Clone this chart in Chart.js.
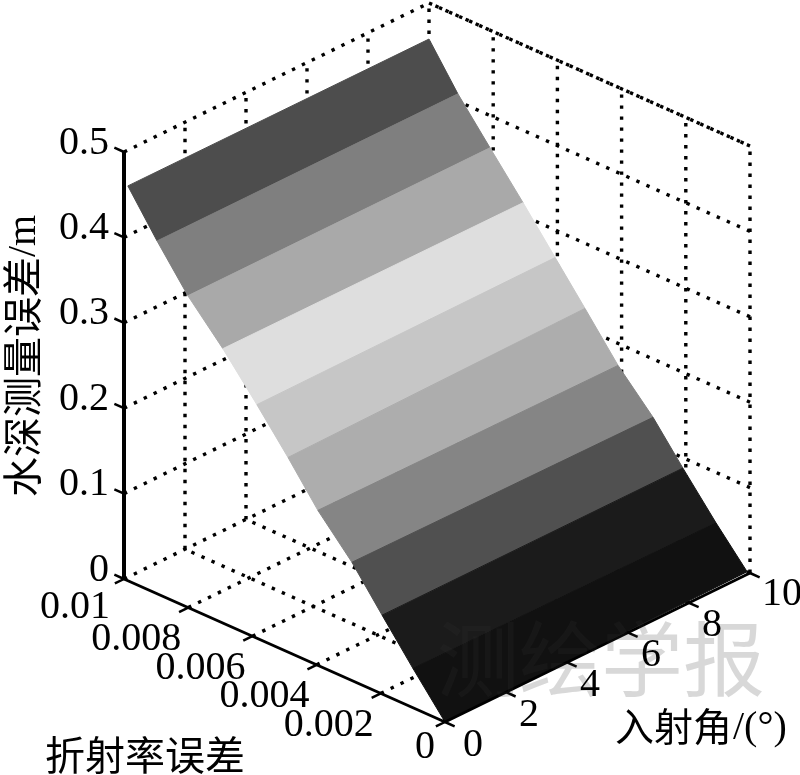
<!DOCTYPE html>
<html>
<head>
<meta charset="utf-8">
<style>html,body{margin:0;padding:0;background:#fff}canvas{display:block}</style>
<script src="https://cdn.jsdelivr.net/npm/chart.js@4"></script>
</head>
<body>
<canvas id="c" width="800" height="775"></canvas>
<script>
// Axis ticks
const refrTicks = [0, 0.002, 0.004, 0.006, 0.008, 0.01];
const refrLabels = ['0', '0.002', '0.004', '0.006', '0.008', '0.01'];
const angleTicks = [0, 2, 4, 6, 8, 10];
const angleLabels = ['0', '2', '4', '6', '8', '10'];
const depthTicks = [0, 0.1, 0.2, 0.3, 0.4, 0.5];
const depthLabels = ['0', '0.1', '0.2', '0.3', '0.4', '0.5'];
// Surface band boundaries (from the far edge to the near edge)
const refrAtAngle0  = [0.00988,0.00897,0.00801,0.00692,0.00586,0.00489,0.00396,0.00290,0.00196,0.00100,0];
const depthAtAngle0 = [0.4623,0.4131,0.3650,0.3213,0.2735,0.2279,0.1815,0.1385,0.0923,0.0461,0];
const refrAtAngle10  = [0.01,0.0091,0.0081,0.00707,0.00607,0.00514,0.00411,0.00302,0.00209,0.00106,0.00009];
const depthAtAngle10 = [0.4578,0.4087,0.3623,0.3152,0.2677,0.2237,0.1742,0.1317,0.0878,0.0410,0];
const bandColors = ['#4d4d4d','#7f7f7f','#a9a9a9','#dedede','#c6c6c6','#adadad','#858585','#505050','#1b1b1b','#111111'];

// Camera model of the 3D box, giving 2D coordinates on the chart's linear scales
const ORIGIN = [445, 722];
function project(r, a, z) {
  return {
    x: ORIGIN[0] - 321 * (r / 0.01) + 305 * (a / 10),
    y: ORIGIN[1] - 143 * (r / 0.01) - 149 * (a / 10) - 854 * z
  };
}
const R1 = refrTicks[refrTicks.length - 1], A1 = angleTicks[angleTicks.length - 1], Z1 = depthTicks[depthTicks.length - 1];

const datasets = [];
function line(p, q, opts) {
  datasets.push(Object.assign({
    data: [project(...p), project(...q)], showLine: true, pointRadius: 0, fill: false, spanGaps: true
  }, opts));
}
const dotted = { borderColor: '#000', borderWidth: 3.4, borderDash: [3.4, 7.6], order: 30 };
const solid = { borderColor: '#000', order: 1 };

// Dotted grid on walls and floor
angleTicks.forEach(a => {
  if (a > 0) line([R1, a, 0], [R1, a, Z1], dotted);
  line([0, a, 0], [R1, a, 0], a === 0 ? Object.assign({}, solid, { borderWidth: 3 }) : dotted);
});
refrTicks.forEach(r => {
  if (r < R1) line([r, A1, 0], [r, A1, Z1], dotted);
  line([r, 0, 0], [r, A1, 0], r === 0 ? Object.assign({}, solid, { borderWidth: 3 }) : dotted);
});
depthTicks.forEach(z => {
  if (z > 0) {
    line([R1, 0, z], [R1, A1, z], dotted);
    line([0, A1, z], [R1, A1, z], dotted);
  }
});
// Top edge of the box
line([R1, A1, Z1], [0, A1, Z1], dotted);

// Surface bands
bandColors.forEach((col, i) => {
  const poly = [
    project(refrAtAngle0[i], 0, depthAtAngle0[i]),
    project(refrAtAngle10[i], A1, depthAtAngle10[i]),
    project(refrAtAngle10[i + 1], A1, depthAtAngle10[i + 1]),
    project(refrAtAngle0[i + 1], 0, depthAtAngle0[i + 1])
  ];
  poly.push(poly[0]);
  datasets.push({
    data: poly, showLine: true, pointRadius: 0, tension: 0,
    backgroundColor: col, borderColor: col, borderWidth: 1, fill: 'shape', order: 10 + (bandColors.length - i)
  });
});

// Solid axes and tick marks
line([R1, 0, 0], [R1, 0, Z1], Object.assign({}, solid, { borderWidth: 4 }));
depthTicks.forEach(z => line([R1, 0, z], [R1 + 0.0003, 0, z], Object.assign({}, solid, { borderWidth: 2.5 })));
refrTicks.forEach(r => line([r, 0, 0], [r, -0.3, 0], Object.assign({}, solid, { borderWidth: 2.5 })));
angleTicks.forEach(a => line([0, a, 0], [-0.0003, a, 0], Object.assign({}, solid, { borderWidth: 2.5 })));

const SERIF = '"Liberation Serif", serif';
const CJK = '"Noto Sans CJK SC", "Noto Sans", sans-serif';

const textPlugin = {
  id: 'boxText',
  afterDraw(chart) {
    const { ctx, scales: { x, y } } = chart;
    const px = p => [x.getPixelForValue(p.x), y.getPixelForValue(p.y)];
    ctx.save();
    // Watermark
    ctx.font = '400 82px ' + CJK;
    ctx.textAlign = 'left';
    ctx.textBaseline = 'middle';
    ctx.globalCompositeOperation = 'multiply';
    ctx.fillStyle = '#cfcfcf';
    ctx.fillText('测绘学报', 437, 659);
    ctx.globalCompositeOperation = 'lighter';
    ctx.fillStyle = 'rgba(255,255,255,0.035)';
    ctx.fillText('测绘学报', 437, 659);
    ctx.globalCompositeOperation = 'source-over';

    ctx.fillStyle = '#000';
    ctx.font = '40px ' + SERIF;
    ctx.textBaseline = 'middle';
    ctx.textAlign = 'right';
    depthTicks.forEach((z, i) => {
      const [a, b] = px(project(R1, 0, z));
      ctx.fillText(depthLabels[i], a - 15, b - 9);
    });
    refrTicks.forEach((r, i) => {
      const [a, b] = px(project(r, 0, 0));
      const dx = r === 0 ? -10 : r === R1 ? -14 : -7;
      const dy = r === 0 ? 25 : r === R1 ? 28 : 32;
      ctx.fillText(refrLabels[i], a + dx, b + dy);
    });
    ctx.textAlign = 'center';
    angleTicks.forEach((t, i) => {
      const [a, b] = px(project(0, t, 0));
      const dx = t === 0 ? 28 : t === A1 ? 32 : 23;
      const dy = t === A1 ? 21 : 23;
      ctx.fillText(angleLabels[i], a + dx, b + dy);
    });

    // Axis titles
    ctx.font = '40px ' + CJK;
    ctx.textAlign = 'left';
    ctx.fillText('折射率误差', 45, 755);
    ctx.font = '39px ' + CJK;
    ctx.fillText('入射角', 615, 726);
    ctx.font = '40px ' + SERIF;
    ctx.fillText('/(°)', 733, 728);
    ctx.save();
    ctx.translate(22, 497);
    ctx.rotate(-Math.PI / 2);
    ctx.font = '40px ' + CJK;
    ctx.fillText('水深测量误差', 0, 0);
    ctx.font = '40px ' + SERIF;
    ctx.fillText('/m', 240, 2);
    ctx.restore();
    ctx.restore();
  }
};

new Chart(document.getElementById('c'), {
  type: 'scatter',
  data: { datasets },
  options: {
    responsive: false,
    animation: false,
    layout: { padding: 0 },
    plugins: { legend: { display: false }, tooltip: { enabled: false }, title: { display: false } },
    scales: {
      x: { type: 'linear', min: 0, max: 800, display: false },
      y: { type: 'linear', min: 0, max: 775, reverse: true, display: false }
    }
  },
  plugins: [textPlugin, {
    id: 'bg',
    beforeDraw(chart) {
      const { ctx, width, height } = chart;
      ctx.save(); ctx.fillStyle = '#fff'; ctx.fillRect(0, 0, width, height); ctx.restore();
    }
  }]
});
</script>
</body>
</html>
